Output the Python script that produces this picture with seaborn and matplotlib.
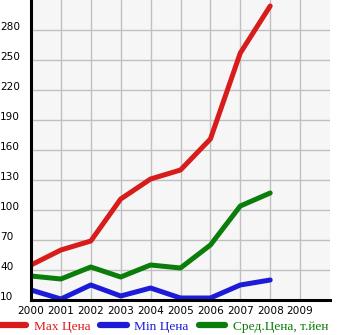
import numpy as np
import pandas as pd
import matplotlib
matplotlib.use("Agg")
import matplotlib.pyplot as plt
import seaborn as sns
from matplotlib.lines import Line2D

years = [2000, 2001, 2002, 2003, 2004, 2005, 2006, 2007, 2008]
max_price = [45, 60, 69, 111, 131, 140, 171, 257, 304]
min_price = [20, 11, 25, 14, 22, 12, 12, 25, 30]
avg_price = [34, 31, 43, 33, 45, 42, 65, 104, 117]

series_names = ["Max Цена", "Min Цена", "Сред.Цена, т.йен"]
series_colors = ["#d81c1c", "#1c1cd8", "#0a7d0a"]
x_ticks = list(range(2000, 2010))
y_ticks = list(range(10, 281, 30))

df = pd.DataFrame({
    "year": years * 3,
    "value": max_price + min_price + avg_price,
    "series": [series_names[0]] * len(years)
              + [series_names[1]] * len(years)
              + [series_names[2]] * len(years),
})

sns.set_theme(style="whitegrid")
plt.rcParams["font.family"] = ["DejaVu Sans"]

fig = plt.figure(figsize=(3.45, 3.35), dpi=100)
ax = fig.add_axes([31 / 345, 35 / 335, 299 / 345, 300 / 335])
ax.set_facecolor("#f6f6f6")

sns.lineplot(data=df, x="year", y="value", hue="series",
             palette=dict(zip(series_names, series_colors)),
             linewidth=3.6, legend=False, ax=ax,
             solid_capstyle="round", solid_joinstyle="round")

ax.set_xlim(2000, 2010)
ax.set_ylim(10, 310)
ax.set_xticks(x_ticks)
ax.set_yticks(y_ticks)
ax.set_xticklabels([str(y) for y in x_ticks], fontsize=7.6, color="black")
ax.set_yticklabels([str(v) for v in y_ticks], fontsize=7.6, color="black",
                   ha="left", va="baseline")
ax.tick_params(axis="y", length=3, width=1, color="black", pad=19.3, direction="out")
ax.tick_params(axis="x", length=3, width=1, color="black", pad=2.5, direction="inout")
ax.set_xlabel("")
ax.set_ylabel("")
ax.grid(True, color="#c0c0c0", linewidth=1)
for side in ["top", "right"]:
    ax.spines[side].set_visible(False)
for side in ["left", "bottom"]:
    ax.spines[side].set_visible(True)
    ax.spines[side].set_color("black")
    ax.spines[side].set_linewidth(2.2)

handles = [Line2D([0], [0], color=c, linewidth=4.5, solid_capstyle="round")
           for c in series_colors]
leg = fig.legend(handles, series_names, loc="lower left",
                 bbox_to_anchor=(-0.005, 0.003), ncol=3, frameon=False,
                 prop={"family": "Liberation Serif", "size": 9.6},
                 handlelength=2.0, handletextpad=0.55, columnspacing=0.75,
                 borderaxespad=0.0, borderpad=0.1)
for text, c in zip(leg.get_texts(), series_colors):
    text.set_color(c)

fig.savefig("out.png", dpi=100)
